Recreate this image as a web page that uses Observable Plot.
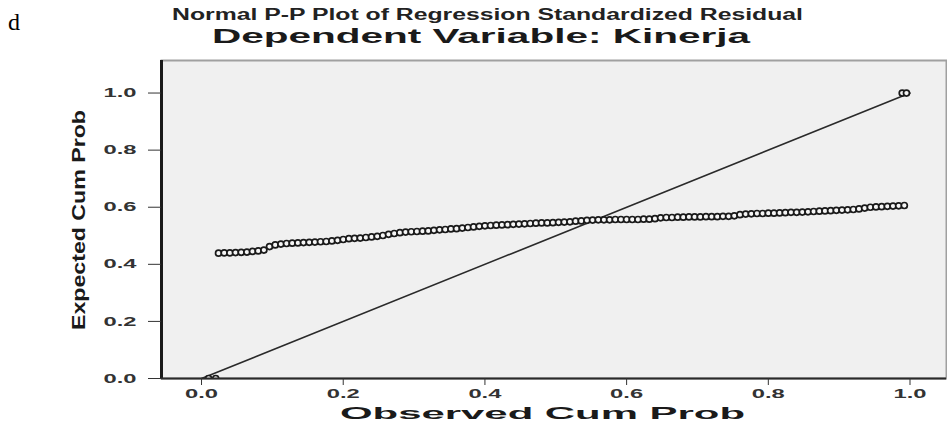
<!DOCTYPE html>
<html>
<head>
<meta charset="utf-8">
<script src="https://cdn.jsdelivr.net/npm/d3@7"></script>
<script src="https://cdn.jsdelivr.net/npm/@observablehq/plot@0.6"></script>
<style>
  html, body { margin: 0; padding: 0; background: #ffffff; }
  #wrap { position: relative; width: 947px; height: 423px; overflow: hidden; }
  #wrap svg { position: absolute; left: 0; top: 0; }
</style>
</head>
<body>
<div id="wrap"></div>
<script>
// ---- Data ----
const panelLetter = "d";
const titleLine1 = "Normal P-P Plot of Regression Standardized Residual";
const titleLine2 = "Dependent Variable: Kinerja";
const xLabel = "Observed Cum Prob";
const yLabel = "Expected Cum Prob";
const xTicks = [0.0, 0.2, 0.4, 0.6, 0.8, 1.0];
const yTicks = [0.0, 0.2, 0.4, 0.6, 0.8, 1.0];

// residual points: observed cum prob (x) and expected cum prob (y)
const observed = [
  0.024,0.032,0.040,0.048,0.056,0.064,0.072,0.080,0.088,0.096,
  0.104,0.112,0.120,0.128,0.136,0.144,0.152,0.160,0.168,0.176,
  0.184,0.192,0.200,0.208,0.216,0.224,0.232,0.240,0.248,0.256,
  0.264,0.272,0.280,0.288,0.296,0.304,0.312,0.320,0.328,0.336,
  0.344,0.352,0.360,0.368,0.376,0.384,0.392,0.400,0.408,0.416,
  0.424,0.432,0.440,0.448,0.456,0.464,0.472,0.480,0.488,0.496,
  0.504,0.512,0.520,0.528,0.536,0.544,0.552,0.560,0.568,0.576,
  0.584,0.592,0.600,0.608,0.616,0.624,0.632,0.640,0.648,0.656,
  0.664,0.672,0.680,0.688,0.696,0.704,0.712,0.720,0.728,0.736,
  0.744,0.752,0.760,0.768,0.776,0.784,0.792,0.800,0.808,0.816,
  0.824,0.832,0.840,0.848,0.856,0.864,0.872,0.880,0.888,0.896,
  0.904,0.912,0.920,0.928,0.936,0.944,0.952,0.960,0.968,0.976,
  0.984,0.992,
  0.010,0.020,
  0.989,0.995
];
const expected = [
  0.439,0.440,0.440,0.441,0.442,0.443,0.445,0.447,0.450,0.462,
  0.468,0.471,0.473,0.474,0.475,0.476,0.477,0.478,0.479,0.480,
  0.482,0.484,0.487,0.490,0.491,0.492,0.494,0.496,0.498,0.501,
  0.505,0.508,0.511,0.513,0.514,0.515,0.516,0.517,0.519,0.521,
  0.522,0.524,0.525,0.527,0.529,0.531,0.533,0.535,0.536,0.537,
  0.538,0.539,0.540,0.541,0.542,0.543,0.544,0.545,0.545,0.546,
  0.547,0.548,0.549,0.551,0.552,0.554,0.555,0.556,0.556,0.556,
  0.557,0.557,0.557,0.557,0.557,0.558,0.558,0.560,0.563,0.564,
  0.564,0.565,0.565,0.566,0.566,0.566,0.567,0.567,0.567,0.568,
  0.568,0.570,0.574,0.576,0.577,0.578,0.578,0.579,0.579,0.580,
  0.581,0.582,0.582,0.583,0.584,0.585,0.586,0.587,0.588,0.589,
  0.590,0.591,0.592,0.594,0.597,0.600,0.601,0.602,0.603,0.604,
  0.605,0.606,
  0.000,0.000,
  1.000,1.000
];

// diagonal reference line
const refX = [0, 1];
const refY = [0, 1];

const xDomain = [-0.0565, 1.0515];
const yDomain = [0, 1.114];

// ---- Build table ----
const points = observed.map((x, i) => ({x, y: expected[i]}));
const refLine = refX.map((x, i) => ({x, y: refY[i]}));

const W = 947, H = 423;
const mL = 161, mR = 1, mT = 60, mB = 45;

const chart = Plot.plot({
  width: W,
  height: H,
  marginLeft: mL,
  marginRight: mR,
  marginTop: mT,
  marginBottom: mB,
  style: {background: "transparent", fontFamily: "'Liberation Sans', Arial, sans-serif"},
  x: {domain: xDomain},
  y: {domain: yDomain},
  marks: [
    Plot.frame({fill: "#f0f0f0", stroke: "#a0a0a0", strokeWidth: 2}),
    Plot.line(refLine, {x: "x", y: "y", stroke: "#2a2a2a", strokeWidth: 1.6, clip: true}),
    Plot.dot(points, {x: "x", y: "y", r: 3, stroke: "#1a1a1a", strokeWidth: 1.7, fill: "#f6f6f6", clip: true}),
    Plot.ruleX([xDomain[0]], {stroke: "#1a1a1a", strokeWidth: 3}),
    Plot.ruleY([yDomain[0]], {stroke: "#2a2a2a", strokeWidth: 2}),
    Plot.axisX({ticks: xTicks, tickFormat: d3.format(".1f"), tickSize: 7, tickPadding: 4, fontSize: 12, fontWeight: "bold", label: null, stroke: "#333", fill: "#333"}),
    Plot.axisY({ticks: yTicks, tickFormat: d3.format(".1f"), tickSize: 13, tickPadding: 12, fontSize: 13, fontWeight: "bold", label: null, stroke: "#333", fill: "#333"})
  ]
});

// stretch tick labels horizontally like the reference
d3.select(chart).selectAll("[aria-label='x-axis tick label'] text, [aria-label='y-axis tick label'] text")
  .attr("textLength", 33).attr("lengthAdjust", "spacingAndGlyphs");

document.getElementById("wrap").appendChild(chart);

// ---- Overlay texts (titles, axis labels, panel letter) ----
const overlay = d3.create("svg").attr("width", W).attr("height", H)
  .style("font-family", "'Liberation Sans', Arial, sans-serif");

overlay.append("text").text(panelLetter)
  .attr("x", 8).attr("y", 30)
  .style("font-family", "'Liberation Serif', 'Times New Roman', serif")
  .style("font-size", "24px").attr("fill", "#000");

overlay.append("text").text(titleLine1)
  .attr("x", 172).attr("y", 20)
  .attr("textLength", 631).attr("lengthAdjust", "spacingAndGlyphs")
  .style("font-size", "16px").style("font-weight", "bold").attr("fill", "#222");

overlay.append("text").text(titleLine2)
  .attr("x", 212).attr("y", 43)
  .attr("textLength", 538).attr("lengthAdjust", "spacingAndGlyphs")
  .style("font-size", "21px").style("font-weight", "bold").attr("fill", "#1a1a1a");

overlay.append("text").text(xLabel)
  .attr("x", 340).attr("y", 419)
  .attr("textLength", 405).attr("lengthAdjust", "spacingAndGlyphs")
  .style("font-size", "17px").style("font-weight", "bold").attr("fill", "#1a1a1a");

overlay.append("text").text(yLabel)
  .attr("transform", "translate(85,330) rotate(-90)")
  .attr("textLength", 220).attr("lengthAdjust", "spacingAndGlyphs")
  .style("font-size", "18px").style("font-weight", "bold").attr("fill", "#1a1a1a");

document.getElementById("wrap").appendChild(overlay.node());
</script>
</body>
</html>
